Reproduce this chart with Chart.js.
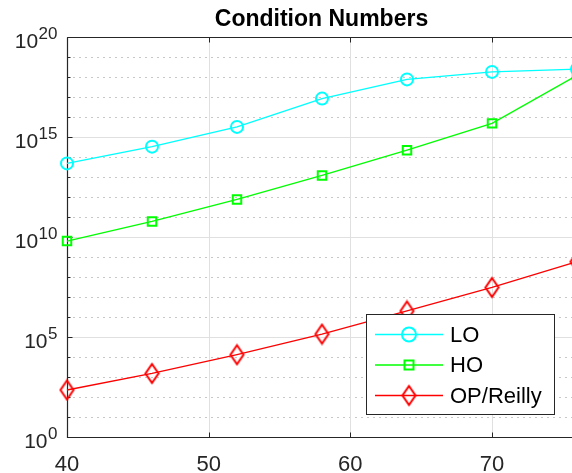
<!DOCTYPE html>
<html>
<head>
<meta charset="utf-8">
<script src="https://cdn.jsdelivr.net/npm/chart.js@4/dist/chart.umd.min.js"></script>
<style>
  html, body { margin: 0; padding: 0; background: #fff; overflow: hidden; }
  #wrap { width: 590px; height: 473px; }
</style>
</head>
<body>
<div id="wrap"><canvas id="c" width="590" height="473"></canvas></div>
<script>
// ---- data ----
const titleText = "Condition Numbers";
const xValues = [40, 46, 52, 58, 64, 70, 76];
const loValues = [4.8e13, 3.3e14, 3.2e15, 8.3e16, 7.6e17, 1.8e18, 2.5e18];
const hoValues = [6.3e9, 6.0e10, 7.6e11, 1.2e13, 2.2e14, 4.8e15, 1.2e18];
const opValues = [224, 1.5e3, 1.3e4, 1.4e5, 2.0e6, 3.0e7, 5.8e8];
const seriesNames = ["LO", "HO", "OP/Reilly"];
const xTicks = [40, 50, 60, 70];
const yMajorExponents = [0, 5, 10, 15, 20];

const FONT = '"Liberation Sans", Arial, Helvetica, sans-serif';
const AXIS_COLOR = '#262626';

function diamondImage(w, h, color) {
  const c = document.createElement('canvas');
  c.width = w + 4; c.height = h + 4;
  const g = c.getContext('2d');
  g.strokeStyle = color; g.lineWidth = 2;
  const cx = c.width / 2, cy = c.height / 2;
  g.beginPath();
  g.moveTo(cx, cy - h / 2); g.lineTo(cx + w / 2, cy);
  g.lineTo(cx, cy + h / 2); g.lineTo(cx - w / 2, cy); g.closePath();
  g.stroke();
  return c;
}
const diamond = diamondImage(13, 19, '#ff0000');

function pts(vals) { return xValues.map((x, i) => ({ x: x, y: vals[i] })); }

const gridPlugin = {
  id: 'matlabAxes',
  beforeDatasetsDraw(chart) {
    const ctx = chart.ctx, a = chart.chartArea;
    const xs = chart.scales.x, ys = chart.scales.y;
    ctx.save();
    ctx.lineWidth = 1;
    for (let e = 1; e < 20; e++) {
      if (e % 5 === 0) continue;
      const y = Math.round(ys.getPixelForValue(Math.pow(10, e))) + 0.5;
      ctx.strokeStyle = '#c8c8c8';
      ctx.setLineDash([2, 4]);
      ctx.beginPath(); ctx.moveTo(a.left, y); ctx.lineTo(a.right, y); ctx.stroke();
    }
    ctx.setLineDash([]);
    ctx.strokeStyle = '#e0e0e0';
    for (const e of yMajorExponents) {
      if (e === 0 || e === 20) continue;
      const y = Math.round(ys.getPixelForValue(Math.pow(10, e))) + 0.5;
      ctx.beginPath(); ctx.moveTo(a.left, y); ctx.lineTo(a.right, y); ctx.stroke();
    }
    for (const t of xTicks) {
      if (t === 40) continue;
      const x = Math.round(xs.getPixelForValue(t)) + 0.5;
      ctx.beginPath(); ctx.moveTo(x, a.top); ctx.lineTo(x, a.bottom); ctx.stroke();
    }
    ctx.strokeStyle = AXIS_COLOR; ctx.lineWidth = 1.2;
    const L = Math.round(a.left) + 0.5, T = Math.round(a.top) + 0.5, B = Math.round(a.bottom) + 0.5, R = Math.round(a.right) + 0.5;
    ctx.beginPath();
    ctx.moveTo(L, T); ctx.lineTo(R, T); ctx.moveTo(L, T); ctx.lineTo(L, B); ctx.lineTo(R, B); ctx.lineTo(R, T);
    ctx.stroke();
    ctx.lineWidth = 1;
    for (const t of xTicks) {
      const x = Math.round(xs.getPixelForValue(t)) + 0.5;
      ctx.beginPath();
      ctx.moveTo(x, B); ctx.lineTo(x, B - 5);
      ctx.moveTo(x, T); ctx.lineTo(x, T + 5);
      ctx.stroke();
    }
    for (let e = 0; e <= 20; e++) {
      const y = Math.round(ys.getPixelForValue(Math.pow(10, e))) + 0.5;
      const len = (e % 5 === 0) ? 5 : 3;
      ctx.beginPath(); ctx.moveTo(L, y); ctx.lineTo(L + len, y); ctx.stroke();
    }
    ctx.fillStyle = AXIS_COLOR;
    ctx.textBaseline = 'alphabetic';
    ctx.textAlign = 'center';
    ctx.font = '22px ' + FONT;
    for (const t of xTicks) {
      ctx.fillText(String(t), xs.getPixelForValue(t), B + 33);
    }
    ctx.textAlign = 'right';
    for (const e of yMajorExponents) {
      const y = ys.getPixelForValue(Math.pow(10, e));
      const right = L - 10;
      ctx.font = '17px ' + FONT;
      const sw = ctx.measureText(String(e)).width;
      ctx.fillText(String(e), right, y + 1.5);
      ctx.font = '21px ' + FONT;
      ctx.fillText('10', right - sw - 0.5, y + 11);
    }
    ctx.font = 'bold 23px ' + FONT;
    ctx.textAlign = 'center';
    ctx.fillStyle = '#000';
    ctx.fillText(titleText, 321.5, 26);
    ctx.restore();
  },
  afterDatasetsDraw(chart) {
    const ctx = chart.ctx;
    ctx.save();
    const bx = 366.5, by = 314.5, bw = 188, bh = 100;
    ctx.fillStyle = '#fff';
    ctx.fillRect(bx, by, bw, bh);
    ctx.strokeStyle = AXIS_COLOR; ctx.lineWidth = 1;
    ctx.strokeRect(bx, by, bw, bh);
    const rows = [334.5, 365, 395.5];
    chart.data.datasets.forEach((ds, i) => {
      const y = rows[i];
      ctx.strokeStyle = ds.borderColor; ctx.lineWidth = 1.3;
      ctx.beginPath(); ctx.moveTo(375, y); ctx.lineTo(443, y); ctx.stroke();
      ctx.lineWidth = 2;
      const mx = 409;
      if (i === 0) {
        ctx.beginPath(); ctx.arc(mx, y, 7, 0, Math.PI * 2); ctx.stroke();
      } else if (i === 1) {
        ctx.strokeRect(mx - 4.5, y - 4.5, 9, 9);
      } else {
        ctx.drawImage(diamond, mx - diamond.width / 2, y - diamond.height / 2);
      }
      ctx.fillStyle = '#000';
      ctx.font = '22px ' + FONT;
      ctx.textAlign = 'left';
      ctx.textBaseline = 'middle';
      ctx.fillText(ds.label, 450, y + 1);
    });
    ctx.restore();
  }
};

new Chart(document.getElementById('c'), {
  type: 'line',
  data: {
    datasets: [
      { label: seriesNames[0], data: pts(loValues), borderColor: '#00ffff', backgroundColor: 'rgba(0,0,0,0)',
        borderWidth: 1.3, pointStyle: 'circle', pointRadius: 6, pointBorderWidth: 2, pointBackgroundColor: 'rgba(0,0,0,0)', clip: false },
      { label: seriesNames[1], data: pts(hoValues), borderColor: '#00ff00', backgroundColor: 'rgba(0,0,0,0)',
        borderWidth: 1.3, pointStyle: 'rect', pointRadius: 6, pointBorderWidth: 2, pointBackgroundColor: 'rgba(0,0,0,0)', clip: false },
      { label: seriesNames[2], data: pts(opValues), borderColor: '#ff0000', backgroundColor: 'rgba(0,0,0,0)',
        borderWidth: 1.3, pointStyle: diamond, pointRadius: 8, pointBorderWidth: 2, pointBackgroundColor: 'rgba(0,0,0,0)', clip: false }
    ]
  },
  options: {
    responsive: false,
    animation: false,
    layout: { padding: { left: 67, top: 37, right: 13, bottom: 36 } },
    scales: {
      x: { type: 'linear', min: 40, max: 76, display: false },
      y: { type: 'logarithmic', min: 1, max: 1e20, display: false }
    },
    plugins: { legend: { display: false }, title: { display: false }, tooltip: { enabled: false } },
    elements: { line: { tension: 0 } }
  },
  plugins: [gridPlugin]
});
</script>
</body>
</html>
